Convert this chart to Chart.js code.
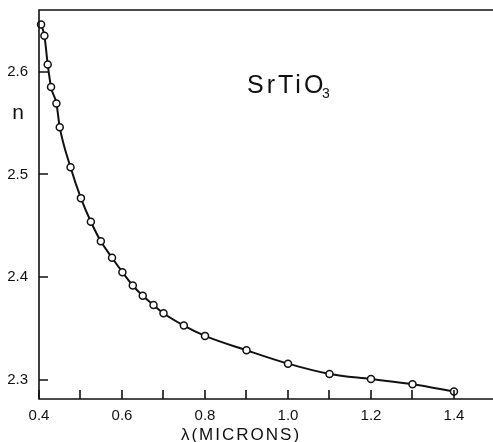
<!DOCTYPE html>
<html>
<head>
<meta charset="utf-8">
<script src="https://cdn.jsdelivr.net/npm/chart.js@4.4.1/dist/chart.umd.min.js"></script>
<style>
  html, body { margin: 0; padding: 0; background: #fff; }
  canvas { display: block; }
</style>
</head>
<body>
<canvas id="chart" width="493" height="442"></canvas>
<script>
// SrTiO3 refractive index vs wavelength
const wavelength = [0.405, 0.413, 0.421, 0.429, 0.442, 0.450, 0.476, 0.501, 0.525, 0.549,
  0.576, 0.601, 0.626, 0.650, 0.676, 0.700, 0.749, 0.800, 0.900, 1.000, 1.100, 1.200, 1.300, 1.400];
const index = [2.646, 2.635, 2.607, 2.585, 2.569, 2.546, 2.507, 2.477, 2.454, 2.435,
  2.419, 2.405, 2.392, 2.382, 2.373, 2.365, 2.353, 2.343, 2.329, 2.316, 2.306, 2.301, 2.296, 2.289];

const xTicks = [0.4, 0.5, 0.6, 0.7, 0.8, 0.9, 1.0, 1.1, 1.2, 1.3, 1.4];
const yTicks = [2.3, 2.4, 2.5, 2.6];

const ink = '#111';
const tickFont = { family: 'Liberation Sans', size: 15 };

// frame (top, left, bottom) with inward tick marks, plus the free text
const framePlugin = {
  id: 'frame',
  afterDatasetsDraw(chart) {
    const { ctx, chartArea: a, scales: { x, y } } = chart;
    ctx.save();
    ctx.strokeStyle = ink;
    ctx.lineWidth = 1.6;
    ctx.beginPath();
    ctx.moveTo(a.right, a.top); ctx.lineTo(a.left, a.top);
    ctx.lineTo(a.left, a.bottom); ctx.lineTo(a.right, a.bottom);
    ctx.stroke();
    ctx.beginPath();
    xTicks.forEach(v => {
      const px = Math.round(x.getPixelForValue(v));
      ctx.moveTo(px, a.bottom); ctx.lineTo(px, a.bottom - 9);
    });
    yTicks.forEach(v => {
      const py = Math.round(y.getPixelForValue(v));
      ctx.moveTo(a.left, py); ctx.lineTo(a.left + 9, py);
    });
    ctx.stroke();

    ctx.fillStyle = ink;
    ctx.textBaseline = 'alphabetic';
    ctx.font = '21px "Liberation Sans"';
    ctx.textAlign = 'center';
    ctx.fillText('n', 18, 119);

    ctx.textAlign = 'left';
    ctx.letterSpacing = '3px';
    ctx.font = '25px "Liberation Sans"';
    ctx.fillText('SrTiO', 247, 93);
    ctx.letterSpacing = '0px';
    ctx.font = '14px "Liberation Sans"';
    ctx.fillText('3', 322, 98);

    ctx.letterSpacing = '2px';
    ctx.font = '17px "Liberation Sans"';
    ctx.textAlign = 'center';
    ctx.fillText('\u03bb(MICRONS)', 241, 440);
    ctx.restore();
  }
};

const noPad = s => { s.paddingLeft = 0; s.paddingRight = 0; s.paddingTop = 0; s.paddingBottom = 0; };

new Chart(document.getElementById('chart'), {
  type: 'line',
  data: {
    datasets: [{
      data: wavelength.map((w, i) => ({ x: w, y: index[i] })),
      borderColor: ink,
      borderWidth: 2,
      cubicInterpolationMode: 'monotone',
      pointRadius: 3.5,
      pointBorderWidth: 1.5,
      pointBackgroundColor: '#fff',
      pointBorderColor: ink,
      clip: false
    }]
  },
  options: {
    responsive: false,
    animation: false,
    layout: { autoPadding: false, padding: { top: 10, left: 0, right: 0, bottom: 0 } },
    plugins: { legend: { display: false }, tooltip: { enabled: false } },
    scales: {
      x: {
        type: 'linear',
        min: 0.4,
        max: 1.494,
        grid: { display: false, drawTicks: false },
        border: { display: false },
        afterBuildTicks: s => { s.ticks = xTicks.map(v => ({ value: v })); },
        afterFit: s => { s.height = 43; noPad(s); },
        ticks: {
          autoSkip: false,
          maxRotation: 0,
          padding: 8,
          color: ink,
          font: tickFont,
          callback: v => Math.round(v * 10) % 2 === 0 ? v.toFixed(1) : ''
        }
      },
      y: {
        type: 'linear',
        min: 2.2816,
        max: 2.66,
        grid: { display: false, drawTicks: false },
        border: { display: false },
        afterBuildTicks: s => { s.ticks = yTicks.map(v => ({ value: v })); },
        afterFit: s => { s.width = 39; noPad(s); },
        ticks: {
          padding: 11,
          color: ink,
          font: tickFont,
          callback: v => v.toFixed(1)
        }
      }
    }
  },
  plugins: [framePlugin]
});
</script>
</body>
</html>
